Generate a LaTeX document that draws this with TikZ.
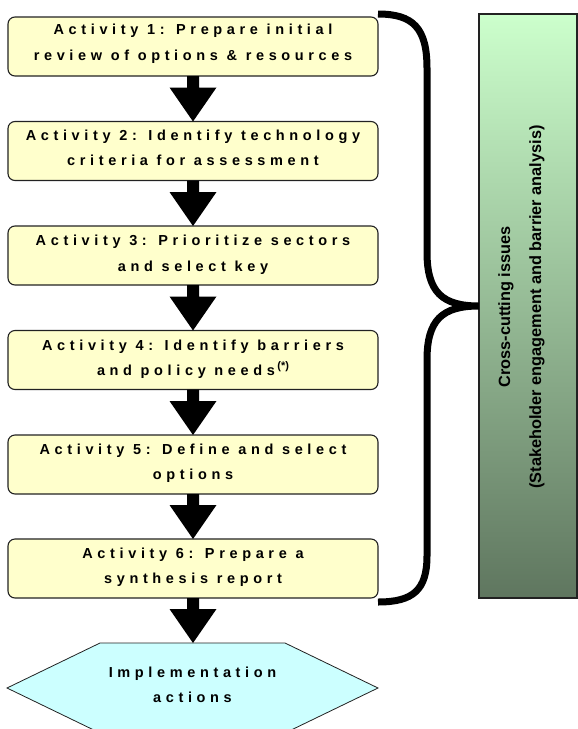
\documentclass[tikz,border=0pt]{standalone}
\usepackage{fontspec}
\setmainfont{Liberation Sans}
\newfontfamily\actfont[LetterSpace=32]{Liberation Sans Bold}
\newfontfamily\ccfont{Liberation Sans Bold}
\usetikzlibrary{calc}
\definecolor{boxyellow}{HTML}{FFFFCC}
\definecolor{hexcyan}{HTML}{CCFFFF}
\definecolor{gtop}{HTML}{CCFFCC}
\definecolor{gbot}{HTML}{5F765F}
\definecolor{edge}{HTML}{222222}
\newcommand\flowarrow[2]{%
  \fill let \p1=(#1.south), \p2=(#2.north) in
    (\x1-6pt,\y1) -- (\x1+6pt,\y1) -- (\x1+6pt,\y2+34pt) -- (\x1+23.5pt,\y2+34pt)
    -- (\x1,\y2) -- (\x1-23.5pt,\y2+34pt) -- (\x1-6pt,\y2+34pt) -- cycle;}
\begin{document}
\begin{tikzpicture}[x=1pt,y=-1pt,
  actbox/.style={draw=edge, line width=1.1pt, fill=boxyellow, rounded corners=7pt,
    minimum width=370pt, minimum height=59pt, inner sep=0pt, outer sep=0pt},
  acttext/.style={font=\actfont\fontsize{14.5}{25.5}\selectfont, align=center, inner sep=0pt},
  cctext/.style={font=\ccfont\fontsize{16.3}{31}\selectfont, align=center, inner sep=0pt}]
\useasboundingbox (0,0) rectangle (578,729);

% activity boxes
\node[actbox] (a1) at (193,46.5) {};
\node[actbox] (a2) at (193,151) {};
\node[actbox] (a3) at (193,255.5) {};
\node[actbox] (a4) at (193,360) {};
\node[actbox] (a5) at (193,464.5) {};
\node[actbox] (a6) at (193,568.5) {};

\node[acttext] (t1) at ($(a1.center)+(0,-3)$) {Activity 1: Prepare initial\\review of options \& resources};
\node[acttext] (t2) at ($(a2.center)+(0,-3)$) {Activity 2: Identify technology\\criteria for assessment};
\node[acttext] (t3) at ($(a3.center)+(0,-1)$) {Activity 3: Prioritize sectors\\and select key};
\node[acttext] (t4) at ($(a4.center)+(0,-1)$) {Activity 4: Identify barriers\\and policy needs\,\raisebox{6.5pt}{\normalfont\bfseries\fontsize{11}{11}\selectfont(*)}};
\node[acttext] (t5) at ($(a5.center)+(0,-1.5)$) {Activity 5: Define and select\\options};
\node[acttext] (t6) at ($(a6.center)+(0,-1.5)$) {Activity 6: Prepare a\\synthesis report};

% implementation hexagon
\node[minimum width=185pt, minimum height=90pt, inner sep=0pt, outer sep=0pt] (impl) at (192.5,688) {};
\draw[draw=edge, line width=0.8pt, fill=hexcyan]
  (impl.north west) -- (impl.north east) -- ($(impl.east)+(93,0)$) -- (impl.south east)
  -- (impl.south west) -- ($(impl.west)+(-93,0)$) -- cycle;
\node[acttext] (ti) at ($(impl.center)+(0,-3)$) {Implementation\\actions};

% arrows
\flowarrow{a1}{a2}
\flowarrow{a2}{a3}
\flowarrow{a3}{a4}
\flowarrow{a4}{a5}
\flowarrow{a5}{a6}
\flowarrow{a6}{impl}

% cross-cutting box
\node[draw=edge, line width=1.2pt, top color=gtop, bottom color=gbot,
  minimum width=98pt, minimum height=584pt, inner sep=0pt, outer sep=0pt] (cc) at (528,306) {};
\node[cctext, rotate=90] (tcc) at (521.5,307) {Cross-cutting issues\\(Stakeholder engagement and barrier analysis)};

% brace
\coordinate (bt) at (378,14);
\coordinate (bb) at (378,602);
\draw[line width=7pt]
  (bt) .. controls (413,14) and (427,28) .. (427,68) -- (427,252)
  .. controls (427,292) and (442,306) .. (cc.west)
  .. controls (442,306) and (427,320) .. (427,360) -- (427,556)
  .. controls (427,590) and (413,602) .. (bb);
\end{tikzpicture}
\end{document}
